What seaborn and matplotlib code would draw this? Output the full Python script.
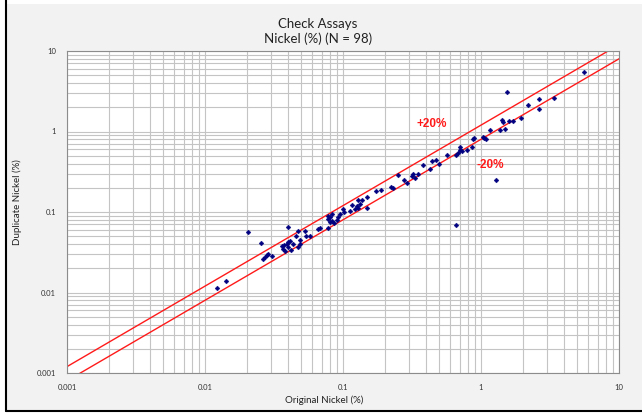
"""
Check assays - original vs duplicate nickel, log-log scatter with +/-20% bands.
"""

import matplotlib
matplotlib.use("Agg")
import matplotlib.pyplot as plt
from matplotlib.lines import Line2D
from matplotlib.patches import Rectangle
from matplotlib.ticker import LogLocator, FixedFormatter, FixedLocator, NullFormatter
import pandas as pd
import seaborn as sns

# original assay (%) and its duplicate (%)
original_ni = [
    0.0122, 0.0142, 0.0204, 0.0255, 0.0397, 0.0264, 0.0272, 0.0281, 0.0288, 0.0304,
    0.0363, 0.0376, 0.0391, 0.0402, 0.0413, 0.0402, 0.0366, 0.0420, 0.0436, 0.0470,
    0.0454, 0.0474, 0.0488, 0.0531, 0.0540, 0.0574, 0.0662, 0.0681, 0.0774, 0.0782,
    0.0805, 0.0774, 0.0828, 0.0805, 0.0900, 0.0925, 0.1005, 0.1020, 0.1125, 0.1156,
    0.1220, 0.1257, 0.1290, 0.1328, 0.1366, 0.1290, 0.1485, 0.1485, 0.1726, 0.1885,
    0.2228, 0.2314, 0.2490, 0.2780, 0.2900, 0.3150, 0.3230, 0.3330, 0.3520, 0.3820,
    0.4270, 0.4400, 0.4720, 0.4990, 0.5640, 0.6590, 0.6850, 0.7050, 0.7050, 0.7320,
    0.7880, 0.8570, 0.8710, 0.8900, 1.030, 1.057, 1.087, 1.162, 1.374, 1.426,
    1.452, 1.493, 1.552, 1.603, 1.714, 1.950, 2.200, 2.640, 2.640, 3.400,
    5.570, 1.279, 0.6590, 0.0832, 0.0951, 0.0861, 0.0381, 0.0488,
]
duplicate_ni = [
    0.0115, 0.0140, 0.0566, 0.0413, 0.0647, 0.0261, 0.0279, 0.0295, 0.0301, 0.0284,
    0.0383, 0.0390, 0.0402, 0.0421, 0.0442, 0.0372, 0.0348, 0.0338, 0.0402, 0.0364,
    0.0509, 0.0577, 0.0451, 0.0587, 0.0499, 0.0509, 0.0618, 0.0635, 0.0635, 0.0904,
    0.0861, 0.0822, 0.0767, 0.0746, 0.0800, 0.0861, 0.1096, 0.1014, 0.1023, 0.1230,
    0.1096, 0.1172, 0.1390, 0.1265, 0.1390, 0.1128, 0.1115, 0.1528, 0.1800, 0.1890,
    0.2037, 0.2004, 0.2850, 0.2520, 0.2310, 0.2770, 0.2930, 0.2670, 0.2930, 0.3800,
    0.3390, 0.4260, 0.4470, 0.3990, 0.5100, 0.5100, 0.5410, 0.5830, 0.6420, 0.5730,
    0.5830, 0.6420, 0.8000, 0.8410, 0.855, 0.831, 0.800, 1.057, 1.057, 1.380,
    1.315, 1.067, 3.110, 1.343, 1.343, 1.475, 2.124, 2.520, 1.930, 2.620,
    5.430, 0.252, 0.0699, 0.0957, 0.0931, 0.0720, 0.0331, 0.0405,
]

band_x = [0.001, 10]
band_factors = [1.2, 0.8]
tick_values = [0.001, 0.01, 0.1, 1, 10]
tick_labels = ["0.001", "0.01", "0.1", "1", "10"]


def main():
    sns.set_style("white")
    plt.rcParams["font.family"] = ["Lato", "DejaVu Sans"]

    df = pd.DataFrame({"original": original_ni, "duplicate": duplicate_ni})

    fig = plt.figure(figsize=(6.42, 4.13), dpi=100, facecolor="white")
    # chart area panel with the dark frame on left and bottom
    fig.patches.append(Rectangle((6 / 642, 2 / 413), 1, 407 / 413, transform=fig.transFigure,
                                 facecolor="#f2f2f2", edgecolor="none", zorder=-10))
    fig.lines.append(Line2D([6 / 642, 6 / 642], [2 / 413, 1], transform=fig.transFigure,
                            color="black", lw=1.5, zorder=-5))
    fig.lines.append(Line2D([6 / 642, 1], [2.5 / 413, 2.5 / 413], transform=fig.transFigure,
                            color="black", lw=1.5, zorder=-5))

    ax = fig.add_axes([67 / 642, 40 / 413, 552 / 642, 322 / 413])
    ax.set_zorder(1)
    ax.set_facecolor("white")
    ax.set_xscale("log")
    ax.set_yscale("log")
    ax.set_xlim(0.001, 10)
    ax.set_ylim(0.001, 10)

    for axis in (ax.xaxis, ax.yaxis):
        axis.set_major_locator(FixedLocator(tick_values))
        axis.set_major_formatter(FixedFormatter(tick_labels))
        axis.set_minor_locator(LogLocator(base=10, subs=range(2, 10), numticks=20))
        axis.set_minor_formatter(NullFormatter())
    ax.grid(which="both", color="#c4c4c4", lw=0.8)
    ax.set_axisbelow(True)
    ax.tick_params(which="major", length=3, width=0.8, color="#888888",
                   labelsize=5.5, labelcolor="#333333", pad=5)
    ax.tick_params(which="minor", length=0)
    for s in ax.spines.values():
        s.set_color("#8c8c8c")
        s.set_linewidth(0.8)

    for f in band_factors:
        sns.lineplot(x=band_x, y=[v * f for v in band_x], ax=ax, color="#ff1a1a", lw=1.0)

    sns.scatterplot(data=df, x="original", y="duplicate", ax=ax, marker="D", s=6,
                    color="#000080", edgecolor="#000080", linewidth=0.3, zorder=3)

    ax.text(0.442, 1.23, "+20%", color="#ff1a1a", fontsize=8.5, fontweight="bold",
            family="Liberation Sans", ha="center", va="center")
    ax.text(1.16, 0.38, "-20%", color="#ff1a1a", fontsize=8.5, fontweight="bold",
            family="Liberation Sans", ha="center", va="center")

    ax.set_xlabel("")
    ax.set_ylabel("")
    fig.text(324 / 642, 1 - 400 / 413, "Original Nickel (%)", fontsize=7, ha="center",
             va="center", color="#222222")
    fig.text(17 / 642, 1 - 202 / 413, "Duplicate Nickel (%)", fontsize=7, ha="center",
             va="center", rotation=90, color="#222222")
    fig.text(318 / 642, 1 - 24 / 413, "Check Assays", fontsize=9.5, ha="center", va="center",
             color="#222222")
    fig.text(318 / 642, 1 - 39 / 413, "Nickel (%) (N = 98)", fontsize=9.5, ha="center",
             va="center", color="#222222")

    fig.savefig("out.png", dpi=100, facecolor=fig.get_facecolor())
    plt.close(fig)


if __name__ == "__main__":
    main()
